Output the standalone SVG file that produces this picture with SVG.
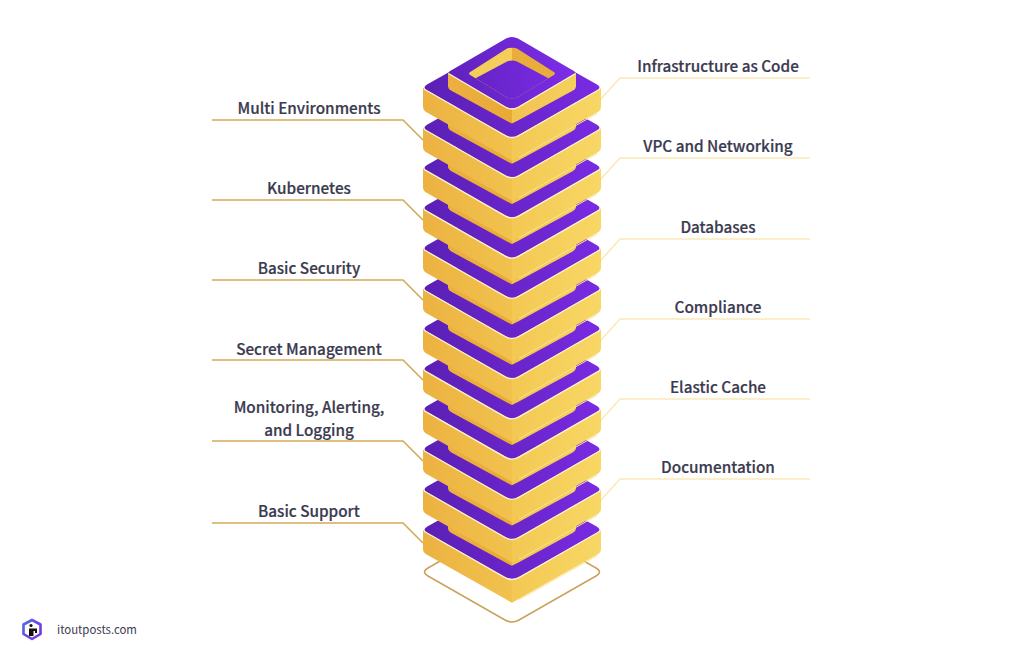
<svg xmlns="http://www.w3.org/2000/svg" width="1024" height="659" viewBox="0 0 1024 659">
<style>
.lbl{font-family:"Noto Sans CJK SC","Noto Sans",sans-serif;font-weight:500;font-size:15.300px;fill:#3a3a50;stroke:#3a3a50;stroke-width:.2;text-anchor:middle}
.cl{fill:none;stroke:#d4aa58;stroke-width:1.6}
.cr{fill:none;stroke:#fae9b8;stroke-width:1.6}
</style>
<defs>
<linearGradient id="pg" gradientUnits="userSpaceOnUse" x1="-89" y1="20" x2="89" y2="-20"><stop offset="0" stop-color="#5a1fb4"/><stop offset="1" stop-color="#7a2be4"/></linearGradient>
<linearGradient id="pg2" gradientUnits="userSpaceOnUse" x1="-64" y1="0" x2="64" y2="-20"><stop offset="0" stop-color="#5f21bc"/><stop offset="1" stop-color="#7d2dea"/></linearGradient>
<linearGradient id="lf" gradientUnits="userSpaceOnUse" x1="-89" y1="0" x2="0" y2="0"><stop offset="0" stop-color="#ecb242"/><stop offset="1" stop-color="#f1c24e"/></linearGradient>
<linearGradient id="rf" gradientUnits="userSpaceOnUse" x1="0" y1="0" x2="89" y2="0"><stop offset="0" stop-color="#f3c853"/><stop offset="1" stop-color="#f8d765"/></linearGradient>
<linearGradient id="nl" gradientUnits="userSpaceOnUse" x1="-64" y1="0" x2="0" y2="0"><stop offset="0" stop-color="#ecb041"/><stop offset="1" stop-color="#eaa935"/></linearGradient>
<linearGradient id="nr" gradientUnits="userSpaceOnUse" x1="0" y1="0" x2="64" y2="0"><stop offset="0" stop-color="#f2c24e"/><stop offset="1" stop-color="#f6d05e"/></linearGradient>
<g id="tier">
<path d="M-89 0V19Q-89 23-85 25L-7 69Q0 73 0 73V50Q-3 50-7 47L-85 3Q-89 1-89 0Z" fill="url(#lf)"/>
<path d="M89 0V19Q89 23 85 25L7 69Q0 73 0 73V50Q3 50 7 47L85 3Q89 1 89 0Z" fill="url(#rf)"/>
<path d="M-85-3L-7-47Q0-51 7-47L85-3Q90 0 85 3L7 47Q0 51-7 47L-85 3Q-90 0-85-3Z" fill="url(#pg)"/>
<path d="M-88 1.500L-7 48Q0 52 7 48L88 1.500" fill="none" stroke="#fff1cf" stroke-width="1.300"/>
<path d="M7 70L85 26" fill="none" stroke="#fbe590" stroke-width="1"/>
<g>
<path d="M-64-15V-1Q-64 1-61 3L-6 33Q0 36 0 36V21Q-3 21-6 19L-61-13Q-64-14-64-15Z" fill="url(#nl)"/>
<path d="M64-15V-1Q64 1 61 3L6 33Q0 36 0 36V21Q3 21 6 19L61-13Q64-14 64-15Z" fill="url(#nr)"/>
<path d="M-61-17L-6-49Q0-52 6-49L61-17Q65-15 61-13L6 19Q0 22-6 19L-61-13Q-65-15-61-17Z" fill="url(#pg2)"/>
<path d="M-63.500-14L-6 20Q0 23 6 20L63.500-14" fill="none" stroke="#fff1cf" stroke-width="1.300"/>
</g>
</g>
<clipPath id="hole"><path d="M-41-16L-5-39Q0-41 5-39L41-16Q45-14 41-12L5 10Q0 12-5 10L-41-12Q-45-14-41-16Z"/></clipPath>
<linearGradient id="lg" x1="0" y1="0" x2="1" y2="1"><stop offset="0" stop-color="#4f6be8"/><stop offset="1" stop-color="#7a2be4"/></linearGradient>
</defs>
<rect width="1024" height="659" fill="#ffffff"/>
<g id="connectors">
<path class="cl" d="M212 120H403L423 140"/>
<path class="cl" d="M212 200H403L423 220"/>
<path class="cl" d="M212 280H403L423 300"/>
<path class="cl" d="M212 360H403L423 380"/>
<path class="cl" d="M212 441H403L423 461"/>
<path class="cl" d="M212 523H403L423 543"/>
<path class="cr" d="M810 78H620L600 100"/>
<path class="cr" d="M810 158H620L600 180"/>
<path class="cr" d="M810 239H620L600 261"/>
<path class="cr" d="M810 319H620L600 341"/>
<path class="cr" d="M810 399H620L600 421"/>
<path class="cr" d="M810 479H620L600 501"/>
</g>
<g id="tower-base"><path d="M428 568L505 524Q512 521 519 524L596 568Q603 572 596 576L519 620Q512 624 505 620L428 576Q421 572 428 568Z" fill="#fff" stroke="#c9a35c" stroke-width="1.500"/></g>
<g id="tower" transform="translate(512 0)">
<use id="tier-12" href="#tier" y="529.700"/>
<use id="tier-11" href="#tier" y="489.500"/>
<use id="tier-10" href="#tier" y="449.300"/>
<use id="tier-9" href="#tier" y="409.100"/>
<use id="tier-8" href="#tier" y="368.900"/>
<use id="tier-7" href="#tier" y="328.700"/>
<use id="tier-6" href="#tier" y="288.500"/>
<use id="tier-5" href="#tier" y="248.300"/>
<use id="tier-4" href="#tier" y="208.100"/>
<use id="tier-3" href="#tier" y="167.900"/>
<use id="tier-2" href="#tier" y="127.700"/>
<use id="tier-1" href="#tier" y="87.500"/>
<g id="top-hole" transform="translate(0 87.500)" clip-path="url(#hole)">
<rect x="-50" y="-45" width="50" height="60" fill="#f5cd59"/>
<rect x="0" y="-45" width="50" height="60" fill="#e9ad3c"/>
<path d="M-50-2L-5-26Q0-28 5-26L50-2V30H-50Z" fill="url(#pg2)"/>
</g>
</g>
<g id="l1"><text class="lbl" x="309" y="113.500">Multi Environments</text></g>
<g id="l2"><text class="lbl" x="309" y="193.500">Kubernetes</text></g>
<g id="l3"><text class="lbl" x="309" y="273.500">Basic Security</text></g>
<g id="l4"><text class="lbl" x="309" y="354.500">Secret Management</text></g>
<g id="l5"><text class="lbl" x="309" y="412.500">Monitoring, Alerting,</text><text class="lbl" x="309" y="435.500">and Logging</text></g>
<g id="l6"><text class="lbl" x="309" y="516.500">Basic Support</text></g>
<g id="r1"><text class="lbl" x="718" y="71.500">Infrastructure as Code</text></g>
<g id="r2"><text class="lbl" x="718" y="151.500">VPC and Networking</text></g>
<g id="r3"><text class="lbl" x="718" y="232.500">Databases</text></g>
<g id="r4"><text class="lbl" x="718" y="312.500">Compliance</text></g>
<g id="r5"><text class="lbl" x="718" y="392.500">Elastic Cache</text></g>
<g id="r6"><text class="lbl" x="718" y="472.500">Documentation</text></g>
<g id="logo">
<path d="M32 620L40.500 624.500V634L32 639L23.500 634V624.500Z" fill="#fff" stroke="url(#lg)" stroke-width="2.600" stroke-linejoin="round"/>
<circle cx="31" cy="625.500" r="1.600" fill="#111"/>
<path d="M29 628.500H37V633H35V631H33.500V636H29Z" fill="#111"/>
<text x="57" y="634" font-family="'Noto Sans CJK SC','Noto Sans',sans-serif" font-size="11.400" fill="#3a3a50">itoutposts.com</text>
</g>
</svg>
